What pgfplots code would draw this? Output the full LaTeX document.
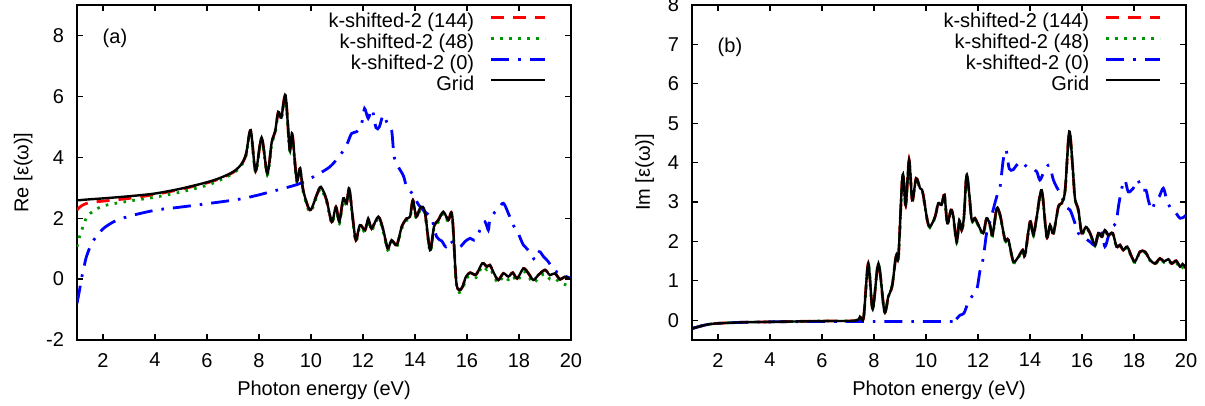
\documentclass[border=0pt]{standalone}
\usepackage{fontspec}
\setmainfont{Liberation Sans}
\usepackage{pgfplots}
\pgfplotsset{compat=1.18}
\usepackage{pgfplotstable}

\definecolor{gpred}{RGB}{255,0,0}
\definecolor{gpgreen}{RGB}{0,150,0}
\definecolor{gpblue}{RGB}{0,0,255}

% Panel (a): Re eps
\pgfplotstableread{
x grid k144 k48
1.00 2.59 2.27 1.06
1.10 2.59 2.36 1.40
1.20 2.60 2.42 1.65
1.35 2.61 2.48 1.99
1.50 2.62 2.52 2.15
2.00 2.65 2.56 2.40
3.00 2.72 2.65 2.56
4.00 2.81 2.78 2.69
5.00 2.97 2.95 2.86
6.00 3.18 3.16 3.08
6.50 3.32 3.30 3.25
7.00 3.52 3.50 3.47
7.30 3.75 3.73 3.70
7.50 4.10 4.08 4.05
7.68 4.89 4.87 4.82
7.87 3.55 3.55 3.50
8.10 4.65 4.63 4.58
8.32 3.47 3.47 3.42
8.49 4.50 4.48 4.44
8.62 4.85 4.83 4.78
8.74 5.49 5.47 5.42
8.86 5.30 5.30 5.25
9.02 6.04 6.02 5.96
9.18 4.25 4.28 4.22
9.28 4.78 4.76 4.70
9.45 3.25 3.27 3.20
9.58 3.64 3.62 3.58
9.70 2.92 2.92 2.86
9.96 2.27 2.27 2.20
10.22 2.76 2.76 2.70
10.38 3.03 3.03 2.97
10.60 2.59 2.59 2.53
10.80 1.88 1.88 1.82
10.96 2.37 2.37 2.31
11.09 1.88 1.88 1.82
11.24 2.65 2.65 2.58
11.37 2.49 2.49 2.43
11.47 2.98 2.98 2.90
11.63 1.83 1.83 1.77
11.73 1.28 1.28 1.22
11.88 1.77 1.77 1.71
12.08 1.61 1.61 1.55
12.20 1.99 1.99 1.93
12.33 1.66 1.66 1.60
12.59 2.05 2.05 1.99
12.78 1.61 1.61 1.55
12.95 1.01 1.01 0.95
13.10 1.28 1.28 1.22
13.30 1.12 1.12 1.06
13.49 1.72 1.72 1.66
13.68 1.99 1.99 1.93
13.81 2.05 2.05 1.99
13.92 2.59 2.59 2.53
14.05 2.05 2.05 1.99
14.22 2.37 2.37 2.31
14.38 2.21 2.21 2.15
14.58 0.95 0.95 0.89
14.73 1.72 1.72 1.66
14.90 1.94 1.94 1.88
15.09 2.21 2.21 2.15
15.28 1.94 1.94 1.88
15.43 2.10 2.10 2.04
15.58 -0.03 -0.03 -0.10
15.70 -0.36 -0.36 -0.44
15.83 -0.25 -0.25 -0.33
15.96 0.08 0.08 0.00
16.12 0.21 0.21 0.11
16.35 0.15 0.15 0.05
16.59 0.52 0.52 0.42
16.76 0.41 0.41 0.31
16.88 0.46 0.46 0.36
17.01 0.24 0.24 0.14
17.20 -0.03 -0.03 -0.13
17.40 0.19 0.19 0.09
17.59 0.08 0.08 -0.02
17.76 0.21 0.21 0.11
17.93 0.02 0.02 -0.08
18.17 0.35 0.35 0.25
18.36 0.19 0.19 0.09
18.55 -0.03 -0.03 -0.13
18.74 0.13 0.13 0.03
19.00 0.30 0.30 0.18
19.19 0.13 0.13 0.00
19.38 0.19 0.19 0.02
19.58 -0.01 -0.01 -0.12
19.77 0.08 0.08 -0.18
20.00 -0.01 -0.01 -0.25
}\reA

\pgfplotstableread{
x y
1.00 -0.80
1.10 -0.35
1.18 0.05
1.26 0.35
1.35 0.70
1.50 1.05
1.64 1.28
2.00 1.65
2.50 1.92
3.17 2.10
4.06 2.27
4.85 2.35
6.13 2.49
7.41 2.65
8.69 2.92
9.58 3.14
10.22 3.42
10.73 3.69
11.12 4.07
11.37 4.40
11.56 4.78
11.76 4.84
11.95 5.11
12.06 5.60
12.20 5.28
12.35 5.58
12.50 4.97
12.63 5.00
12.78 5.39
12.95 5.08
13.10 4.89
13.19 4.07
13.30 3.77
13.55 3.40
13.68 3.03
13.94 2.76
14.13 2.45
14.38 2.21
14.64 1.99
14.83 1.39
15.03 1.25
15.19 1.06
15.35 1.28
15.50 1.12
15.73 1.06
15.92 1.23
16.12 1.34
16.31 1.28
16.50 1.61
16.69 1.88
16.82 1.61
16.88 1.94
17.08 2.21
17.20 2.32
17.40 2.49
17.59 2.16
17.78 1.77
17.97 1.50
18.17 1.12
18.42 0.90
18.62 0.62
18.78 0.90
18.94 0.74
19.13 0.57
19.32 0.30
19.58 0.19
19.83 0.08
20.00 0.02
}\reAblue

% Panel (b): Im eps
\pgfplotstableread{
x grid k144 k48
1.00 -0.21 -0.21 -0.21
1.50 -0.12 -0.12 -0.12
1.95 -0.08 -0.08 -0.08
3.00 -0.05 -0.05 -0.05
4.00 -0.04 -0.04 -0.04
6.00 -0.02 -0.02 -0.02
7.27 -0.01 -0.01 -0.01
7.46 0.09 0.09 0.09
7.60 0.07 0.07 0.07
7.78 1.44 1.44 1.42
7.95 0.28 0.28 0.28
8.17 1.44 1.44 1.42
8.40 0.22 0.22 0.22
8.55 0.60 0.60 0.60
8.70 0.88 0.88 0.88
8.85 1.65 1.65 1.63
8.94 1.62 1.62 1.60
9.10 3.69 3.69 3.67
9.22 2.92 2.92 2.90
9.35 4.07 4.07 4.05
9.47 3.05 3.05 3.03
9.62 3.60 3.60 3.58
9.77 3.35 3.35 3.33
9.87 3.26 3.26 3.24
10.05 2.54 2.54 2.52
10.15 2.37 2.37 2.35
10.35 2.63 2.63 2.61
10.47 2.97 2.97 2.95
10.60 2.93 2.93 2.91
10.71 3.18 3.18 3.16
10.82 2.46 2.46 2.44
10.96 2.80 2.80 2.78
11.05 2.63 2.63 2.61
11.18 1.99 1.99 1.97
11.28 2.54 2.54 2.52
11.37 2.29 2.29 2.27
11.46 2.63 2.63 2.61
11.56 3.69 3.69 3.67
11.66 3.22 3.22 3.20
11.76 2.54 2.54 2.52
11.88 2.59 2.59 2.57
12.01 2.42 2.42 2.40
12.20 2.21 2.21 2.19
12.33 2.59 2.59 2.57
12.46 2.42 2.42 2.40
12.56 2.16 2.16 2.14
12.72 2.84 2.84 2.82
12.85 2.67 2.67 2.65
13.04 2.04 2.04 2.02
13.17 2.04 2.04 2.02
13.36 1.49 1.49 1.47
13.55 1.61 1.61 1.59
13.72 1.78 1.78 1.76
13.81 1.65 1.65 1.63
14.00 2.50 2.50 2.48
14.13 2.16 2.16 2.14
14.26 2.63 2.63 2.61
14.45 3.30 3.30 3.28
14.64 2.12 2.12 2.10
14.77 2.42 2.42 2.40
14.90 2.21 2.21 2.19
15.09 2.88 2.88 2.86
15.22 2.97 2.97 2.95
15.35 3.30 3.30 3.28
15.51 4.79 4.79 4.75
15.64 3.90 3.90 3.88
15.73 3.09 3.09 3.07
15.86 2.80 2.80 2.78
15.99 2.21 2.21 2.19
16.15 2.37 2.37 2.35
16.31 2.21 2.21 2.19
16.50 1.91 1.91 1.89
16.63 2.21 2.21 2.19
16.76 2.12 2.12 2.10
16.88 2.29 2.29 2.27
17.01 2.16 2.16 2.14
17.18 2.21 2.21 2.19
17.33 1.87 1.87 1.85
17.46 1.91 1.91 1.89
17.59 1.78 1.78 1.76
17.74 1.87 1.87 1.85
17.91 1.61 1.61 1.59
18.04 1.49 1.49 1.47
18.23 1.74 1.74 1.72
18.42 1.74 1.74 1.72
18.62 1.53 1.53 1.51
18.81 1.44 1.44 1.42
19.00 1.57 1.57 1.55
19.15 1.49 1.49 1.47
19.32 1.55 1.55 1.53
19.45 1.44 1.44 1.42
19.62 1.51 1.51 1.47
19.77 1.36 1.36 1.30
19.87 1.43 1.43 1.34
20.00 1.32 1.32 1.25
}\imB

\pgfplotstableread{
x y
1.00 -0.21
1.50 -0.12
1.95 -0.08
3.00 -0.05
4.00 -0.04
6.00 -0.03
8.00 -0.03
11.00 -0.03
11.12 0.00
11.31 0.13
11.46 0.18
11.63 0.47
11.76 0.60
11.95 0.77
12.08 1.27
12.20 1.57
12.33 2.21
12.46 2.50
12.72 3.14
12.85 3.39
12.97 4.07
13.08 4.32
13.20 3.85
13.35 3.82
13.49 3.94
13.68 4.02
13.87 3.90
14.07 3.86
14.26 3.77
14.38 3.56
14.54 3.77
14.74 3.94
14.90 3.56
15.09 3.30
15.22 3.14
15.35 2.88
15.54 2.80
15.73 2.46
15.86 2.21
16.05 2.12
16.31 1.99
16.50 1.91
16.63 2.21
16.76 2.25
16.88 1.87
17.01 2.12
17.14 2.37
17.31 2.46
17.40 2.88
17.53 3.35
17.65 3.56
17.78 3.26
17.97 3.35
18.14 3.56
18.30 3.30
18.46 3.30
18.55 3.05
18.68 2.80
18.81 3.01
18.97 3.14
19.13 3.35
19.26 3.05
19.41 2.84
19.58 2.75
19.77 2.59
19.94 2.63
20.00 2.67
}\imBblue

\pgfplotsset{
  gp/.style={
    scale only axis, width=247pt, height=167.5pt, anchor=south west,
    xmin=1, xmax=20, xtick={2,4,...,20},
    tick align=inside, major tick length=3pt,
    axis line style={line width=0.7pt},
    every tick/.style={black, line width=0.6pt},
    /pgf/number format/assume math mode=true,
    xlabel={Photon energy (eV)},
    xticklabel style={yshift=-3pt},
    yticklabel style={xshift=-3pt},
    legend cell align=right, legend plot pos=right,
    legend style={draw=none, fill=none, at={(0.9514,0.979)}, anchor=north east,
      inner sep=0pt, row sep=0pt,
      nodes={inner sep=0.3pt, text height=7.4pt, text depth=2.4pt},
      /tikz/every odd column/.append style={column sep=7.5pt}},
    legend image code/.code={\draw[#1] (0pt,2.6pt) -- (27pt,2.6pt);},
    smooth, tension=0.5,
  },
  red144/.style={gpred, line width=1.4pt, dash pattern=on 6.5pt off 4.5pt},
  green48/.style={gpgreen, line width=1.4pt, dash pattern=on 1.3pt off 3.2pt},
  blue0/.style={gpblue, line width=1.4pt, dash pattern=on 9pt off 4.5pt on 1.3pt off 4.5pt},
  gridl/.style={black, line width=1.2pt},
}

\begin{document}
\begin{tikzpicture}
\path[use as bounding box] (0,0) rectangle (602.5pt,203pt);

\begin{axis}[gp, at={(38.5pt,33pt)},
  ymin=-2, ymax=9, ytick={-2,0,2,4,6,8},
  ylabel={Re [ε(ω)]}]
\addplot[red144] table[x=x,y=k144] {\reA};
\addlegendentry{k-shifted-2 (144)}
\addplot[green48] table[x=x,y=k48] {\reA};
\addlegendentry{k-shifted-2 (48)}
\addplot[blue0] table[x=x,y=y] {\reAblue};
\addlegendentry{k-shifted-2 (0)}
\addplot[gridl] table[x=x,y=grid] {\reA};
\addlegendentry{Grid}
\node at (axis cs:2.46,7.92) {(a)};
\end{axis}

\begin{axis}[gp, at={(346pt,33pt)},
  ymin=-0.5, ymax=8, ytick={0,1,...,8},
  ylabel={Im [ε(ω)]}]
\addplot[red144] table[x=x,y=k144] {\imB};
\addlegendentry{k-shifted-2 (144)}
\addplot[green48] table[x=x,y=k48] {\imB};
\addlegendentry{k-shifted-2 (48)}
\addplot[blue0] table[x=x,y=y] {\imBblue};
\addlegendentry{k-shifted-2 (0)}
\addplot[gridl] table[x=x,y=grid] {\imB};
\addlegendentry{Grid}
\node at (axis cs:2.46,6.92) {(b)};
\end{axis}
\end{tikzpicture}
\end{document}
